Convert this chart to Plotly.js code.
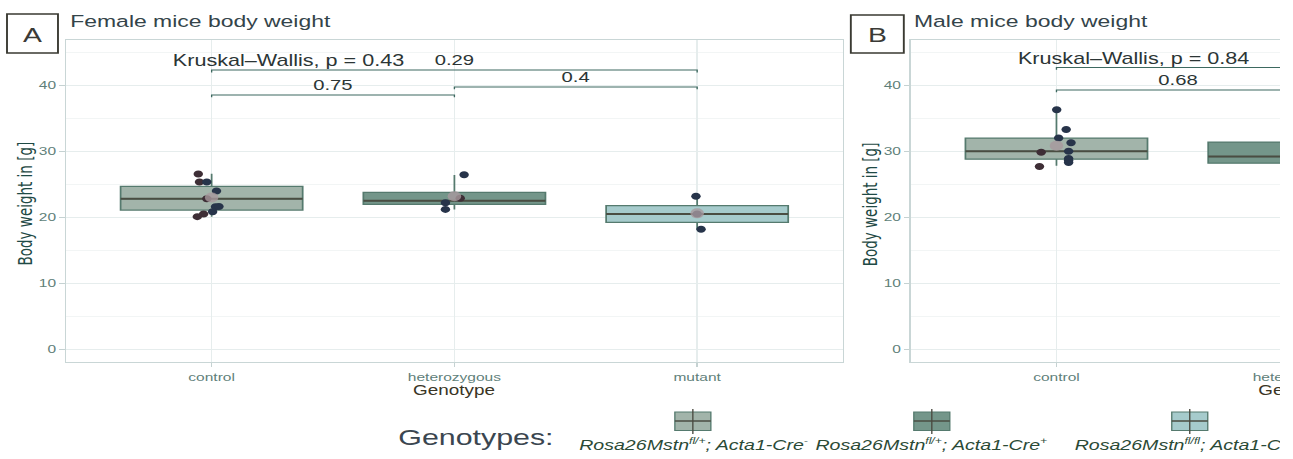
<!DOCTYPE html>
<html><head><meta charset="utf-8">
<script src="https://cdn.plot.ly/plotly-3.0.1.min.js"></script>
<style>
html,body{margin:0;padding:0;background:#fff;overflow:hidden;}
#wrap{width:1280px;height:459px;overflow:hidden;position:relative;background:#fff;}
#plot{position:absolute;left:0;top:0;transform-origin:0 0;}
</style></head><body>
<div id="wrap"><div id="plot"></div></div>
<script>
// ---------- data ----------
const genotypes = ['control', 'heterozygous', 'mutant'];
const SUP = t => '<sup><span style="font-size:9px">' + t + '</span></sup>';
const legendLabels = [
  '<i>Rosa26Mstn' + SUP('fl/+') + '; Acta1-Cre' + SUP('-') + '</i>',
  '<i>Rosa26Mstn' + SUP('fl/+') + '; Acta1-Cre' + SUP('+') + '</i>',
  '<i>Rosa26Mstn' + SUP('fl/fl') + '; Acta1-Cre' + SUP('+') + '</i>'
];

// female box statistics (g)
const femaleQ1     = [21.1, 21.97, 19.24];
const femaleMedian = [22.8, 22.5, 20.5];
const femaleQ3     = [24.7, 23.79, 21.76];
const femaleLow    = [20.1, 21.2, 18.2];
const femaleHigh   = [26.6, 26.4, 23.2];
const femaleMean   = [23.0, 23.2, 20.6];
// female individual mice
const femaleGroup  = [0,0,0,0,0,0,0,0,0,0, 1,1,1,1, 2,2,2];
const femaleJitter = [-0.055,-0.05,-0.02,0.02,-0.02,0.016,0.03,0.004,-0.033,-0.059, 0.04,-0.037,-0.037,0.024, -0.005,0.0,0.016];
const femaleWeight = [26.56,25.35,25.35,23.98,22.8,21.6,21.64,20.85,20.5,20.1, 26.45,22.2,21.2,22.9, 23.2,20.5,18.2];
// female pairwise comparisons
const femaleBrFrom  = [0, 1, 0];
const femaleBrTo    = [1, 2, 2];
const femaleBrY     = [38.53, 39.74, 42.3];
const femaleBrLabel = ['0.75', '0.4', '0.29'];
const femaleKW = 'Kruskal\u2013Wallis, p = 0.43';

// male box statistics (g) – only control and (partly) heterozygous are visible
const maleQ1     = [28.8, 28.2];
const maleMedian = [30.0, 29.2];
const maleQ3     = [32.0, 31.4];
const maleLow    = [27.8, 28.2];
const maleHigh   = [36.4, 31.4];
const maleMean   = [30.85];
const maleGroup  = [0,0,0,0,0,0,0,0,0,0];
const maleJitter = [0.001,0.04,0.009,0.06,0.05,-0.063,0.05,0.05,0.05,-0.07];
const maleWeight = [36.3,33.3,32.0,31.3,30.0,29.85,28.9,28.6,28.3,27.7];
const maleBrFrom  = [0, 0];
const maleBrTo    = [1, 2];
const maleBrY     = [39.3, 42.7];
const maleBrLabel = ['0.68', ''];
const maleKW = 'Kruskal\u2013Wallis, p = 0.84';

// ---------- styles / layout constants ----------
const K = 1.35;           // horizontal stretch of the reference image
const FULLW = 1700, H = 459;
const PW = FULLW / K;
const fx = px => px / FULLW;
const fy = py => 1 - py / H;
const FONT = 'Liberation Sans, Arial, Helvetica, sans-serif';
const NARROW = 'Liberation Sans Narrow, DejaVu Sans Condensed, Arial Narrow, sans-serif';
const boxFill = ['#a2b4aa', '#74968a', '#a6cbcc'];
const boxLine = '#557a6e';
const medLine = '#4a4d42';
const NAVY = '#27344a', BROWN = '#3e2e36';
const femaleDotColors = [BROWN,BROWN,NAVY,NAVY,BROWN,NAVY,NAVY,NAVY,BROWN,BROWN, NAVY,NAVY,NAVY,BROWN, NAVY,NAVY,NAVY];
const maleDotColors = [NAVY,NAVY,NAVY,NAVY,NAVY,BROWN,NAVY,NAVY,NAVY,BROWN];
const meanColor = 'rgba(168,152,158,0.8)';
const bracketColor = '#3d6960';
const BOXW = 0.75;

const traces = [];
const annotations = [];
const shapes = [];

function addPanel(xa, ya, q1, med, q3, lo, hi, mean, grp, jit, wt, dotCols, brFrom, brTo, brY, brLab, kwText, kwY) {
  q1.forEach((v, i) => {
    traces.push({
      type: 'box', x: [i], q1: [q1[i]], median: [med[i]], q3: [q3[i]],
      lowerfence: [lo[i]], upperfence: [hi[i]],
      width: BOXW, whiskerwidth: 0, boxpoints: false,
      fillcolor: boxFill[i], line: {color: boxLine, width: 1.3},
      xaxis: xa, yaxis: ya, hoverinfo: 'skip', showlegend: false
    });
    traces.push({
      type: 'scatter', mode: 'lines', x: [i - BOXW / 2, i + BOXW / 2], y: [med[i], med[i]],
      line: {color: medLine, width: 2}, xaxis: xa, yaxis: ya, hoverinfo: 'skip', showlegend: false
    });
  });
  traces.push({
    type: 'scatter', mode: 'markers',
    x: grp.map((g, i) => g + jit[i]), y: wt,
    marker: {size: 7, color: dotCols}, xaxis: xa, yaxis: ya, hoverinfo: 'skip', showlegend: false
  });
  traces.push({
    type: 'scatter', mode: 'markers', x: mean.map((_, i) => i), y: mean,
    marker: {size: 10, color: meanColor}, xaxis: xa, yaxis: ya, hoverinfo: 'skip', showlegend: false
  });
  brY.forEach((y, i) => {
    const a = brFrom[i], b = brTo[i];
    traces.push({
      type: 'scatter', mode: 'lines', x: [a, a, b, b], y: [y - 0.35, y, y, y - 0.35],
      line: {color: bracketColor, width: 1}, xaxis: xa, yaxis: ya, hoverinfo: 'skip', showlegend: false
    });
    if (brLab[i]) annotations.push({
      xref: xa, yref: ya, x: (a + b) / 2, y: y, yanchor: 'bottom', xanchor: 'center',
      text: brLab[i], showarrow: false, font: {family: FONT, size: 15, color: '#2b3535'}
    });
  });
  annotations.push({
    xref: xa, yref: ya, x: -0.17, y: kwY, xanchor: 'left', yanchor: 'middle',
    text: kwText, showarrow: false, font: {family: FONT, size: 16, color: '#2b3535'}
  });
}

addPanel('x', 'y', femaleQ1, femaleMedian, femaleQ3, femaleLow, femaleHigh, femaleMean,
  femaleGroup, femaleJitter, femaleWeight, femaleDotColors, femaleBrFrom, femaleBrTo, femaleBrY, femaleBrLabel, femaleKW, 43.8);
addPanel('x2', 'y2', maleQ1, maleMedian, maleQ3, maleLow, maleHigh, maleMean,
  maleGroup, maleJitter, maleWeight, maleDotColors, maleBrFrom, maleBrTo, maleBrY, maleBrLabel, maleKW, 44.05);

// panel decorations
const panels = [
  {letter: 'A', box: [7, 58, 14, 53], title: 'Female mice body weight', tx: 67, ytx: 25, gx: 455},
  {letter: 'B', box: [851, 904, 15, 53], title: 'Male mice body weight', tx: 911, ytx: 870, gx: 1300}
];
panels.forEach(p => {
  shapes.push({type: 'rect', xref: 'paper', yref: 'paper', x0: fx(p.box[0]), x1: fx(p.box[1]),
    y0: fy(p.box[3]), y1: fy(p.box[2]), line: {color: '#3a3a32', width: 1.4}, fillcolor: '#ffffff'});
  annotations.push({xref: 'paper', yref: 'paper', x: fx((p.box[0] + p.box[1]) / 2), y: fy(34),
    text: p.letter, showarrow: false, xanchor: 'center', yanchor: 'middle',
    font: {family: FONT, size: 21, color: '#3a3a36'}});
  annotations.push({xref: 'paper', yref: 'paper', x: fx(p.tx), y: fy(22), text: p.title,
    showarrow: false, xanchor: 'left', yanchor: 'middle', font: {family: FONT, size: 17, color: '#34444a'}});
  annotations.push({xref: 'paper', yref: 'paper', x: fx(p.ytx), y: fy(204), text: 'Body weight in [g]',
    textangle: -90, showarrow: false, xanchor: 'center', yanchor: 'middle',
    font: {family: NARROW, size: 15, color: '#1f4a45'}});
  annotations.push({xref: 'paper', yref: 'paper', x: fx(p.gx), y: fy(390), text: 'Genotype',
    showarrow: false, xanchor: 'center', yanchor: 'middle', font: {family: FONT, size: 14, color: '#3a3525'}});
});

// legend drawn below the panels
annotations.push({xref: 'paper', yref: 'paper', x: fx(396), y: fy(437), text: 'Genotypes:',
  showarrow: false, xanchor: 'left', yanchor: 'middle', font: {family: FONT, size: 22.5, color: '#3b4650'}});
const legendCenters = [693, 932, 1190];
legendLabels.forEach((lab, i) => {
  const c = legendCenters[i];
  shapes.push({type: 'rect', xref: 'paper', yref: 'paper', x0: fx(c - 18), x1: fx(c + 18), y0: fy(430.5), y1: fy(412),
    fillcolor: boxFill[i], line: {color: boxLine, width: 1}});
  shapes.push({type: 'line', xref: 'paper', yref: 'paper', x0: fx(c - 18), x1: fx(c + 18), y0: fy(421), y1: fy(421),
    line: {color: medLine, width: 1.5}});
  shapes.push({type: 'line', xref: 'paper', yref: 'paper', x0: fx(c), x1: fx(c), y0: fy(409), y1: fy(434),
    line: {color: '#4a4a40', width: 1}});
  annotations.push({xref: 'paper', yref: 'paper', x: fx(c), y: fy(444), text: lab, showarrow: false,
    xanchor: 'center', yanchor: 'middle', font: {family: FONT, size: 14.5, color: '#2b4a36'}});
});

function xAxis(d0, d1, anchor) {
  return {
    domain: [fx(d0), fx(d1)], anchor: anchor, range: [-0.6, 2.6],
    tickmode: 'array', tickvals: genotypes.map((_, i) => i), ticktext: genotypes,
    showgrid: true, gridcolor: '#e6eded', gridwidth: 1, zeroline: false,
    ticks: 'outside', ticklen: 4, tickcolor: '#c5d2d2', tickwidth: 1,
    showline: true, mirror: true, linecolor: '#c9d6d6', linewidth: 1,
    tickfont: {family: FONT, size: 11.5, color: '#5f7f7a'}, fixedrange: true
  };
}
function yAxis(anchor) {
  return {
    domain: [fy(362), fy(40)], anchor: anchor, range: [-1.92, 46.86],
    tickmode: 'array', tickvals: [0, 10, 20, 30, 40],
    showgrid: true, gridcolor: '#e6eded', gridwidth: 1, zeroline: false,
    minor: {tickmode: 'array', tickvals: [5, 15, 25, 35, 45], showgrid: true, gridcolor: '#f2f5f5', ticks: ''},
    ticks: 'outside', ticklen: 4, tickcolor: '#c5d2d2', tickwidth: 1,
    showline: true, mirror: true, linecolor: '#c9d6d6', linewidth: 1,
    tickfont: {family: FONT, size: 11.5, color: '#5f7f7a'}, fixedrange: true
  };
}

const layout = {
  width: PW, height: H,
  margin: {l: 0, r: 0, t: 0, b: 0, pad: 0},
  paper_bgcolor: '#ffffff', plot_bgcolor: '#ffffff',
  showlegend: false,
  xaxis: xAxis(66, 843, 'y'), yaxis: yAxis('x'),
  xaxis2: xAxis(911, 1688, 'y2'), yaxis2: yAxis('x2'),
  annotations: annotations, shapes: shapes,
  font: {family: FONT}
};

Plotly.newPlot('plot', traces, layout, {displayModeBar: false, staticPlot: true}).then(() => {
  document.getElementById('plot').style.transform = 'scaleX(' + K + ')';
});
</script>
</body></html>
